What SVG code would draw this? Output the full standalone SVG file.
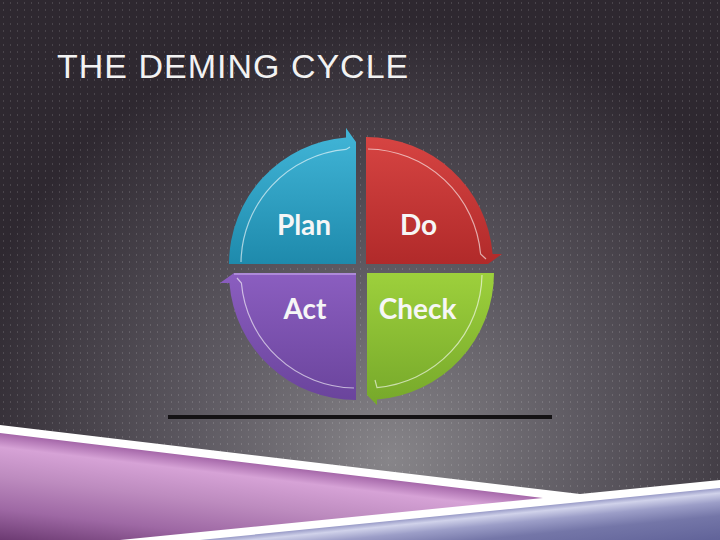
<svg xmlns="http://www.w3.org/2000/svg" width="720" height="540" viewBox="0 0 720 540">
  <defs>
    <radialGradient id="bg" gradientUnits="userSpaceOnUse" cx="390" cy="460" r="440">
      <stop offset="0" stop-color="#878589"/>
      <stop offset="0.45" stop-color="#5d5961"/>
      <stop offset="1" stop-color="#2e2830"/>
    </radialGradient>
    <pattern id="dots" width="7" height="7" patternUnits="userSpaceOnUse">
      <rect x="3" y="2" width="1" height="2" fill="#ffffff" fill-opacity="0.13"/>
    </pattern>
    <linearGradient id="gPlan" x1="0" y1="0" x2="0" y2="1">
      <stop offset="0" stop-color="#42b6d8"/>
      <stop offset="1" stop-color="#1e8aac"/>
    </linearGradient>
    <linearGradient id="gDo" x1="0" y1="0" x2="0" y2="1">
      <stop offset="0" stop-color="#d64442"/>
      <stop offset="1" stop-color="#b12a2a"/>
    </linearGradient>
    <linearGradient id="gAct" x1="0" y1="0" x2="0" y2="1">
      <stop offset="0" stop-color="#8b5ec0"/>
      <stop offset="1" stop-color="#6a449c"/>
    </linearGradient>
    <linearGradient id="gCheck" x1="0" y1="0" x2="0" y2="1">
      <stop offset="0" stop-color="#9dd03c"/>
      <stop offset="1" stop-color="#76a82a"/>
    </linearGradient>
    <linearGradient id="gPurple" gradientUnits="userSpaceOnUse" x1="0" y1="433" x2="-12.7" y2="540">
      <stop offset="0" stop-color="#a466a8"/>
      <stop offset="0.13" stop-color="#d6a2d6"/>
      <stop offset="0.4" stop-color="#bd8bbf"/>
      <stop offset="0.7" stop-color="#9e68a4"/>
      <stop offset="1" stop-color="#6a3870"/>
    </linearGradient>
    <linearGradient id="gBlue" gradientUnits="userSpaceOnUse" x1="600" y1="500" x2="605" y2="550">
      <stop offset="0" stop-color="#9a9cc8"/>
      <stop offset="0.1" stop-color="#d0d2ea"/>
      <stop offset="0.28" stop-color="#9c9ec8"/>
      <stop offset="0.55" stop-color="#7476a8"/>
      <stop offset="1" stop-color="#62649a"/>
    </linearGradient>
    <style>
      .lbl { font-family: Lato, "Open Sans", "Liberation Sans", sans-serif; font-weight: bold; font-size: 28px; fill: #f6f6f6; text-anchor: middle; }
      .hl { fill: none; stroke: #ffffff; stroke-opacity: 0.6; stroke-width: 1.2; }
      .title { font-family: "Liberation Sans", Arial, sans-serif; font-size: 34px; letter-spacing: 1px; fill: #f2f2f2; }
    </style>
  </defs>

  <rect width="720" height="540" fill="url(#bg)"/>
  <rect width="720" height="540" fill="url(#dots)"/>

  <text class="title" x="57" y="78">THE DEMING CYCLE</text>

  <g id="node-plan">
    <path d="M356,264 L229,264 A127,127 0 0 1 346,137.4 L346,128 L356,142 Z" fill="url(#gPlan)"/>
    <path class="hl" d="M241,262 A115,115 0 0 1 346,149.4 L350,147"/>
    <text class="lbl" x="304" y="235">Plan</text>
  </g>

  <g id="node-do">
    <path d="M366,264 L366,137 A127,127 0 0 1 492.6,254 L502,254 L488,264 Z" fill="url(#gDo)"/>
    <path class="hl" d="M368,149 A115,115 0 0 1 480.6,254 L486,259"/>
    <text class="lbl" x="418.5" y="235">Do</text>
  </g>

  <g id="node-act">
    <path d="M356,273 L356,400 A127,127 0 0 1 229.4,283 L220,283 L234,273 Z" fill="url(#gAct)"/>
    <path d="M234,274 L356,274" stroke="#b89ae0" stroke-width="1.5" fill="none"/>
    <path class="hl" d="M354,388 A115,115 0 0 1 241.4,283 L237,278"/>
    <text class="lbl" x="305" y="319">Act</text>
  </g>

  <g id="node-check">
    <path d="M367,273 L494,273 A127,127 0 0 1 377,399.6 L377,405 L367,395 Z" fill="url(#gCheck)"/>
    <path class="hl" d="M482,275 A115,115 0 0 1 377,387.6 L375,380"/>
    <text class="lbl" x="417.5" y="319">Check</text>
  </g>

  <rect x="168" y="415" width="384" height="4" fill="#141214"/>

  <g id="swoosh">
    <polygon points="0,425 580,494 720,480 720,540 0,540" fill="#ffffff"/>
    <polygon points="0,433 543,498 120,540 0,540" fill="url(#gPurple)"/>
    <polygon points="720,488 720,540 200,540" fill="url(#gBlue)"/>
  </g>
</svg>
